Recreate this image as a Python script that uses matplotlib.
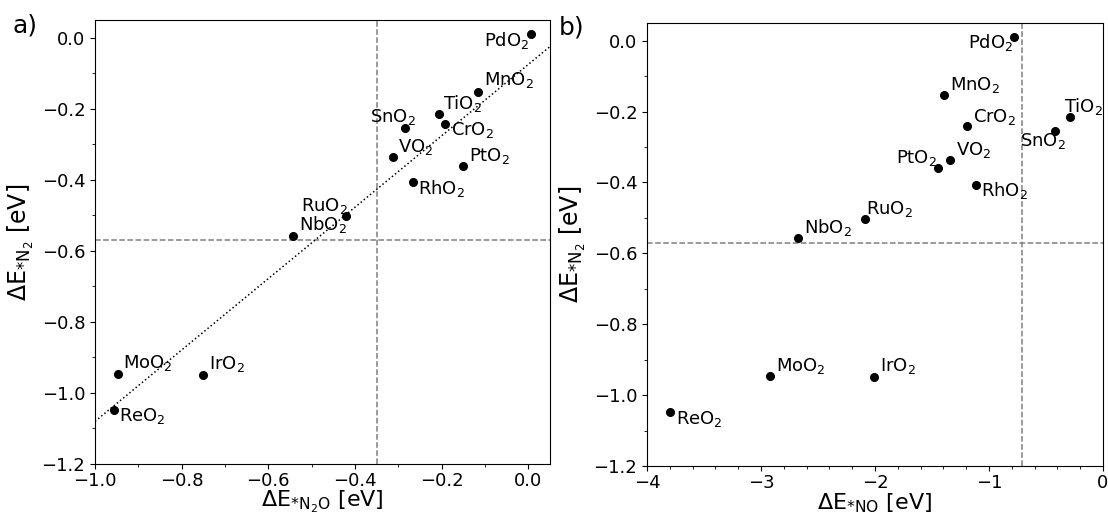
import numpy as np
import matplotlib
matplotlib.use("Agg")
import matplotlib.pyplot as plt
from matplotlib.ticker import AutoMinorLocator, MultipleLocator

# ---- data ----
names = ["PdO2", "MnO2", "TiO2", "CrO2", "SnO2", "VO2", "PtO2", "RhO2",
         "RuO2", "NbO2", "MoO2", "IrO2", "ReO2"]
dE_N2 = [0.010, -0.152, -0.216, -0.242, -0.255, -0.337, -0.360, -0.406,
         -0.502, -0.558, -0.947, -0.949, -1.049]
dE_N2O = [0.006, -0.117, -0.207, -0.193, -0.285, -0.313, -0.150, -0.265,
          -0.420, -0.542, -0.947, -0.751, -0.955]
dE_NO = [-0.777, -1.395, -0.287, -1.195, -0.418, -1.339, -1.445, -1.117,
         -2.090, -2.674, -2.917, -2.012, -3.794]
ref_N2 = -0.57
ref_N2O = -0.35
ref_NO = -0.71
fit_slope = 1.005
fit_intercept = -0.075

# label placement: (dx px, dy px, ha)
off_a = {
    "PdO2": (-2, -12, "right"), "MnO2": (6, 7, "left"), "TiO2": (4, 5, "left"),
    "CrO2": (6, -11, "left"), "SnO2": (-12, 6, "center"), "VO2": (5, 5, "left"),
    "PtO2": (6, 5, "left"), "RhO2": (5, -12, "left"), "RuO2": (2, 5, "right"),
    "NbO2": (6, 6, "left"), "MoO2": (5, 6, "left"), "IrO2": (6, 6, "left"),
    "ReO2": (5, -11, "left"),
}
off_b = {
    "PdO2": (-1, -11, "right"), "MnO2": (6, 5, "left"), "TiO2": (-6, 5, "left"),
    "CrO2": (6, 4, "left"), "SnO2": (-12, -15, "center"), "VO2": (6, 5, "left"),
    "PtO2": (-1, 5, "right"), "RhO2": (5, -11, "left"), "RuO2": (1, 5, "left"),
    "NbO2": (6, 5, "left"), "MoO2": (6, 5, "left"), "IrO2": (6, 6, "left"),
    "ReO2": (6, -12, "left"),
}

plt.rcParams["font.family"] = ["DejaVu Sans"]
plt.rcParams["mathtext.fontset"] = "dejavusans"

fig = plt.figure(figsize=(11.08, 5.18), dpi=100)
ax1 = fig.add_axes([95 / 1108, 1 - 464 / 518, 455 / 1108, 444 / 518])
ax2 = fig.add_axes([647 / 1108, 1 - 466 / 518, 456 / 1108, 443 / 518])

TICK_FS = 13
ANN_FS = 13
LAB_FS = 16


def label(n):
    return n[:-1] + "$_2$"


def draw(ax, xs, ys, offs, xref):
    ax.plot(xs, ys, "o", color="black", markersize=5.5, zorder=3)
    ax.axhline(ref_N2, color="gray", ls="--", lw=1.1, zorder=1)
    ax.axvline(xref, color="gray", ls="--", lw=1.1, zorder=1)
    for n, x, y in zip(names, xs, ys):
        dx, dy, ha = offs[n]
        ax.annotate(label(n), (x, y), xytext=(dx, dy), textcoords="offset pixels",
                    ha=ha, va="baseline", fontsize=ANN_FS)
    ax.set_ylim(-1.2, 0.05)
    ax.yaxis.set_major_locator(MultipleLocator(0.2))
    ax.yaxis.set_minor_locator(AutoMinorLocator(2))
    ax.tick_params(labelsize=TICK_FS)
    ax.tick_params(axis="x", pad=2.5)
    ax.set_ylabel(r"ΔE$_{\mathregular{*N_2}}$ [eV]", fontsize=17)


draw(ax1, dE_N2O, dE_N2, off_a, ref_N2O)
ax1.set_xlim(-1.0, 0.05)
ax1.xaxis.set_major_locator(MultipleLocator(0.2))
ax1.xaxis.set_minor_locator(AutoMinorLocator(2))
xl = np.array(ax1.get_xlim())
ax1.plot(xl, fit_slope * xl + fit_intercept, ls=":", color="black", lw=1.1, zorder=2)
ax1.set_xlim(-1.0, 0.05)
ax1.set_xlabel(r"ΔE$_{\mathregular{*N_2O}}$ [eV]", fontsize=LAB_FS, labelpad=-1)

draw(ax2, dE_NO, dE_N2, off_b, ref_NO)
ax2.set_xlim(-4, 0)
ax2.xaxis.set_major_locator(MultipleLocator(1))
ax2.xaxis.set_minor_locator(AutoMinorLocator(5))
ax2.set_xlabel(r"ΔE$_{\mathregular{*NO}}$ [eV]", fontsize=LAB_FS, labelpad=-1)

fig.text(12 / 1108, 1 - 14 / 518, "a)", fontsize=18, va="top", ha="left")
fig.text(559 / 1108, 1 - 16 / 518, "b)", fontsize=18, va="top", ha="left")

fig.savefig("out.png", dpi=100)
